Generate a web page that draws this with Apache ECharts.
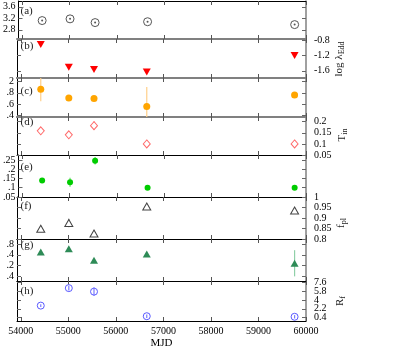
<!DOCTYPE html>
<html><head><meta charset="utf-8">
<script src="https://cdn.jsdelivr.net/npm/echarts@6/dist/echarts.min.js"></script>
<style>html,body{margin:0;padding:0;background:#fff}#c{width:399px;height:350px}</style>
</head><body><div id="c"></div>
<script>
// ---- data ----
const mjd = [54420, 55010, 55540, 56650, 59760];
const valA = [3.12, 3.18, 3.05, 3.08, 2.98];
const valB = [-0.91, -1.51, -1.57, -1.63, -1.20];
const valC = [1.86, 1.71, 1.70, 1.56, 1.76];
const errC = [0.21, 0.02, 0.02, 0.34, 0.02];
const valD = [0.159, 0.141, 0.182, 0.100, 0.100];
const errD = [0.006, 0.005, 0.02, 0.004, 0.004];
const valE = [0.139, 0.130, 0.246, 0.100, 0.100];
const errE = [0.008, 0.024, 0.02, 0.005, 0.005];
const valF = [0.849, 0.876, 0.826, 0.955, 0.936];
const errF = [0.005, 0.02, 0.015, 0.004, 0.004];
const valG = [0.50, 0.62, 0.20, 0.43, 0.09];
const errG = [0.03, 0.03, 0.03, 0.03, 0.48];
const valH = [2.85, 6.47, 5.74, 0.66, 0.54];
const errH = [0.3, 0.5, 0.9, 0.35, 0.35];

const xTicks = [54000, 55000, 56000, 57000, 58000, 59000, 60000];
const xTickLabels = ['54000', '55000', '56000', '57000', '58000', '59000', '60000'];
const ticksA = [3.6, 3.2, 2.8];           const labelsA = ['3.6', '3.2', '2.8'];
const ticksB = [-0.8, -1.2, -1.6];        const labelsB = ['-0.8', '-1.2', '-1.6'];
const ticksC = [2.0, 1.8, 1.6, 1.4];      const labelsC = ['2', '.8', '.6', '.4'];
const ticksD = [0.2, 0.15, 0.1, 0.05];    const labelsD = ['0.2', '0.15', '0.1', '0.05'];
const ticksE = [0.25, 0.2, 0.15, 0.1, 0.05]; const labelsE = ['.25', '.2', '.15', '.1', '.05'];
const ticksF = [1, 0.95, 0.9, 0.85, 0.8]; const labelsF = ['1', '0.95', '0.9', '0.85', '0.8'];
const ticksG = [0.8, 0.4, 0.0, -0.4];     const labelsG = ['.8', '.4', '.2', '.4'];
const ticksH = [7.6, 5.8, 4, 2.2, 0.4];   const labelsH = ['7.6', '5.8', '4', '2.2', '0.4'];
const panelNames = ['(a)', '(b)', '(c)', '(d)', '(e)', '(f)', '(g)', '(h)'];

// ---- layout ----
const FONT = 'Liberation Serif';
const GRAY = '#808080';
const panels = [
  {top: 1,   h: 38, min: 2.48,  max: 3.80,  ticks: ticksA, labels: labelsA, side: 'left',  topLine: ['#000', 1],  botLine: [GRAY, 2]},
  {top: 39,  h: 39, min: -1.79, max: -0.766, ticks: ticksB, labels: labelsB, side: 'right', topLine: [GRAY, 2], botLine: [GRAY, 2]},
  {top: 78,  h: 39, min: 1.377, max: 2.058, ticks: ticksC, labels: labelsC, side: 'left',  topLine: [GRAY, 2], botLine: [GRAY, 2]},
  {top: 117, h: 38, min: 0.05,  max: 0.221, ticks: ticksD, labels: labelsD, side: 'right', topLine: [GRAY, 2], botLine: ['#000', 1]},
  {top: 155, h: 42, min: 0.05,  max: 0.277, ticks: ticksE, labels: labelsE, side: 'left',  topLine: ['#000', 1], botLine: ['#000', 1]},
  {top: 197, h: 42, min: 0.8,   max: 1.0,   ticks: ticksF, labels: labelsF, side: 'right', topLine: ['#000', 1], botLine: ['#000', 1]},
  {top: 239, h: 42, min: -0.56, max: 0.98,  ticks: ticksG, labels: labelsG, side: 'left',  topLine: ['#000', 1], botLine: ['#000', 1]},
  {top: 281, h: 42, min: -0.33, max: 7.94,  ticks: ticksH, labels: labelsH, side: 'right', topLine: ['#000', 1], botLine: ['#000', 1]}
];
const labelY = [11, 46, 91, 122.5, 167.5, 206.5, 245, 291.5];

function fmtFrom(ticks, labels) {
  return function (v) {
    for (let i = 0; i < ticks.length; i++) if (Math.abs(ticks[i] - v) < 1e-6) return labels[i];
    return '';
  };
}

const grid = [], xAxis = [], yAxis = [];
panels.forEach((p, i) => {
  grid.push({left: 17, width: 289, top: p.top, height: p.h});
  const last = i === panels.length - 1;
  xAxis.push({
    gridIndex: i, type: 'value', min: 53920, max: 60000, position: 'bottom',
    axisLine: {show: true, onZero: false, lineStyle: {color: p.botLine[0], width: p.botLine[1]}},
    axisTick: {show: true, inside: true, length: 4, customValues: xTicks, lineStyle: {color: '#555'}},
    axisLabel: {show: last, customValues: xTicks, formatter: fmtFrom(xTicks, xTickLabels),
      fontFamily: FONT, fontSize: 10, color: '#000', margin: 5,
      showMinLabel: true, showMaxLabel: true, hideOverlap: false},
    splitLine: {show: false},
    name: last ? 'MJD' : '', nameLocation: 'middle', nameGap: 17,
    nameTextStyle: {fontFamily: FONT, fontSize: 11, color: '#000'}
  });
  xAxis.push({
    gridIndex: i, type: 'value', min: 53920, max: 60000, position: 'top',
    axisLine: {show: true, onZero: false, lineStyle: {color: p.topLine[0], width: p.topLine[1]}},
    axisTick: {show: true, inside: true, length: 4, customValues: xTicks, lineStyle: {color: '#555'}},
    axisLabel: {show: false}, splitLine: {show: false}
  });
  const evenTicks = p.ticks.filter((_, k) => k % 2 === 0);
  const oddTicks = p.ticks.filter((_, k) => k % 2 === 1);
  const lab = (vals) => ({customValues: vals, formatter: fmtFrom(p.ticks, p.labels),
    fontFamily: FONT, fontSize: 10, color: '#000',
    showMinLabel: true, showMaxLabel: true, hideOverlap: false,
    margin: p.side === 'left' ? 3 : 8});
  // 3*i: left line + ticks
  yAxis.push({
    gridIndex: i, type: 'value', min: p.min, max: p.max, position: 'left',
    axisLine: {show: true, onZero: false, lineStyle: {color: '#000', width: 1}},
    axisTick: {show: true, inside: true, length: 4, customValues: p.ticks, lineStyle: {color: '#666'}},
    axisLabel: Object.assign(lab(evenTicks), {show: p.side === 'left'}),
    splitLine: {show: false}
  });
  // 3*i+1: right line + ticks
  yAxis.push({
    gridIndex: i, type: 'value', min: p.min, max: p.max, position: 'right',
    axisLine: {show: true, onZero: false, lineStyle: {color: GRAY, width: 1.5}},
    axisTick: {show: true, inside: true, length: 4, customValues: p.ticks, lineStyle: {color: '#666'}},
    axisLabel: Object.assign(lab(evenTicks), {show: p.side === 'right'}),
    splitLine: {show: false}
  });
  // 3*i+2: remaining labels only
  yAxis.push({
    gridIndex: i, type: 'value', min: p.min, max: p.max, position: p.side,
    axisLine: {show: false, onZero: false}, axisTick: {show: false},
    axisLabel: Object.assign(lab(oddTicks), {show: oddTicks.length > 0}),
    splitLine: {show: false}
  });
});

function pts(vals) { return mjd.map((m, i) => [m, vals[i]]); }
function scatter(gi, vals, symbol, size, color, extra) {
  return Object.assign({
    type: 'scatter', xAxisIndex: 2 * gi, yAxisIndex: 3 * gi, data: pts(vals),
    symbol: symbol, symbolSize: size, itemStyle: {color: color, opacity: 1},
    silent: true, z: 3
  }, extra || {});
}
function hollow(gi, vals, symbol, size, color, extra) {
  return Object.assign(scatter(gi, vals, symbol, size, color),
    {itemStyle: {color: '#fff', borderColor: color, borderWidth: 1, opacity: 1}}, extra || {});
}
function errBars(gi, vals, errs, color) {
  return {
    type: 'custom', xAxisIndex: 2 * gi, yAxisIndex: 3 * gi, clip: true, silent: true, z: 2,
    data: mjd.map((m, i) => [m, vals[i] - errs[i], vals[i] + errs[i]]),
    renderItem: function (params, api) {
      const a = api.coord([api.value(0), api.value(1)]);
      const b = api.coord([api.value(0), api.value(2)]);
      return {type: 'line', shape: {x1: a[0], y1: a[1], x2: b[0], y2: b[1]},
        style: {stroke: color, lineWidth: 1.2}};
    }
  };
}

const series = [
  hollow(0, valA, 'circle', 8, '#555'),
  scatter(0, valA, 'circle', 2, '#555', {z: 4}),
  scatter(1, valB, 'triangle', [8, 7], '#ff0000', {symbolRotate: 180}),
  errBars(2, valC, errC, '#ffd08a'),
  scatter(2, valC, 'circle', 7, '#ffa500'),
  errBars(3, valD, errD, '#ffb0b0'),
  hollow(3, valD, 'diamond', [7, 8], '#ff6a6a'),
  errBars(4, valE, errE, '#66dd66'),
  scatter(4, valE, 'circle', 6, '#00cc00'),
  errBars(5, valF, errF, '#999'),
  hollow(5, valF, 'triangle', [8, 7], '#444'),
  errBars(6, valG, errG, '#90d0a8'),
  scatter(6, valG, 'triangle', [8, 7], '#2e8b57'),
  hollow(7, valH, 'circle', 7, '#5a5aff'),
  Object.assign(errBars(7, valH, errH, '#7a7aff'), {z: 4})
];

const graphic = panelNames.map((t, i) => ({
  type: 'text', x: 20.5, y: labelY[i],
  style: {text: t, fontFamily: FONT, fontSize: 11, fill: '#222', align: 'left', verticalAlign: 'middle'}
}));
function axisTitle(main, sub, x, y) {
  return {
    type: 'text', x: x, y: y, rotation: Math.PI / 2,
    style: {
      text: '{n|' + main + '}{s|' + sub + '}',
      align: 'center', verticalAlign: 'middle', fill: '#222',
      rich: {
        n: {fontFamily: FONT, fontSize: 11, fill: '#222', lineHeight: 14, verticalAlign: 'middle'},
        s: {fontFamily: FONT, fontSize: 8, fill: '#222', lineHeight: 14, verticalAlign: 'bottom'}
      }
    }
  };
}
graphic.push(axisTitle('log λ', 'Edd', 339, 59));
graphic.push(axisTitle('T', 'in', 342, 135));
graphic.push(axisTitle('f', 'pl', 341, 223));
graphic.push(axisTitle('R', 'f', 340, 301));

const chart = echarts.init(document.getElementById('c'), null, {renderer: 'canvas'});
chart.setOption({
  animation: false, backgroundColor: '#fff',
  grid: grid, xAxis: xAxis, yAxis: yAxis, series: series, graphic: graphic
});
</script>
</body></html>
